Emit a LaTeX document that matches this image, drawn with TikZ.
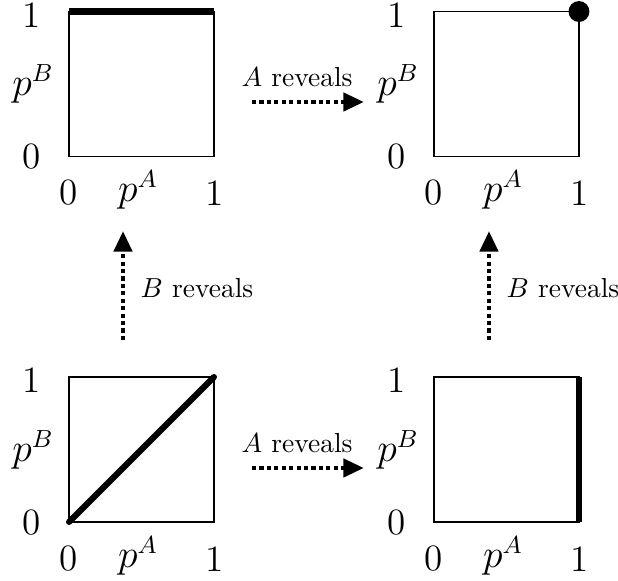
\documentclass[tikz,border=0pt]{standalone}
\usetikzlibrary{arrows.meta}
\begin{document}
\begin{tikzpicture}[x=0.3636pt,y=-0.3636pt,
  box/.style={draw,line width=0.55pt,minimum size=52.7pt,inner sep=0pt,outer sep=0pt},
  heavy/.style={line width=2.2pt},
  reveal/.style={line width=1.7pt,dash pattern=on 1.5pt off 1.2pt,-{Triangle[length=7.5pt,width=6.5pt]}},
  lbl/.style={inner sep=0pt},
  ax/.style={inner sep=0pt,font=\fontsize{13.5}{16}\selectfont}]
\useasboundingbox (0,0) rectangle (618,581);
% boxes
\node[box] (tl) at (141.5,84) {};
\node[box] (tr) at (506.5,84) {};
\node[box] (bl) at (141.5,449.5) {};
\node[box] (br) at (506.5,449.5) {};
% contents
\draw[heavy] (tl.north west) -- (tl.north east);
\fill (tr.north east) circle (3.8pt);
\draw[heavy,line cap=round] (bl.south west) -- (bl.north east);
\draw[heavy] (br.south east) -- (br.north east);
% axis labels
\node[ax] (tl1) at (32,15) {1};
\node[ax] (tl0) at (32,157) {0};
\node[ax] (tlpb) at (33,84) {$p^B$};
\node[ax] (tlx0) at (69,193) {0};
\node[ax] (tlpa) at (138,190) {$p^A$};
\node[ax] (tlx1) at (215,193) {1};

\node[ax] (tr1) at (397,15) {1};
\node[ax] (tr0) at (397,157) {0};
\node[ax] (trpb) at (398,84) {$p^B$};
\node[ax] (trx0) at (434,193) {0};
\node[ax] (trpa) at (503,190) {$p^A$};
\node[ax] (trx1) at (580,193) {1};

\node[ax] (bl1) at (32,380) {1};
\node[ax] (bl0) at (32,523) {0};
\node[ax] (blpb) at (33,450) {$p^B$};
\node[ax] (blx0) at (69,559) {0};
\node[ax] (blpa) at (138,556) {$p^A$};
\node[ax] (blx1) at (215,559) {1};

\node[ax] (br1) at (397,380) {1};
\node[ax] (br0) at (397,523) {0};
\node[ax] (brpb) at (398,450) {$p^B$};
\node[ax] (brx0) at (434,559) {0};
\node[ax] (brpa) at (503,556) {$p^A$};
\node[ax] (brx1) at (580,559) {1};
% arrows
\coordinate (ha1) at (252,102);
\coordinate (hb1) at (364,102);
\draw[reveal] (ha1) -- (hb1);
\node[lbl] (hl1) at (297,77) {$A$ reveals};
\coordinate (ha2) at (252,468);
\coordinate (hb2) at (364,468);
\draw[reveal] (ha2) -- (hb2);
\node[lbl] (hl2) at (297,443) {$A$ reveals};
\coordinate (va1) at (123,340);
\coordinate (vb1) at (123,231);
\draw[reveal] (va1) -- (vb1);
\node[lbl] (vl1) at (197,288) {$B$ reveals};
\coordinate (va2) at (489,340);
\coordinate (vb2) at (489,231);
\draw[reveal] (va2) -- (vb2);
\node[lbl] (vl2) at (563,288) {$B$ reveals};
\end{tikzpicture}
\end{document}
